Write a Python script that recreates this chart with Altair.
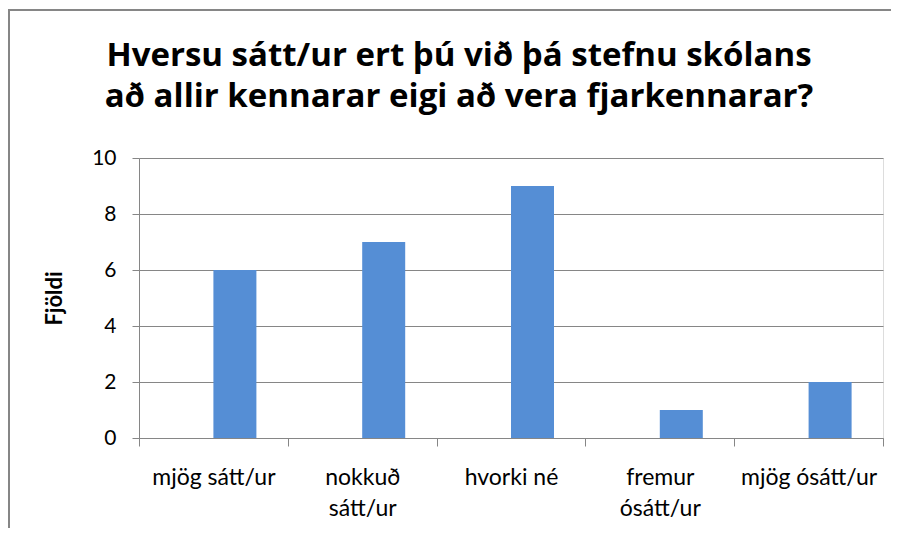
import altair as alt
import pandas as pd

categories = ["mjög sátt/ur", "nokkuð sátt/ur", "hvorki né", "fremur ósátt/ur", "mjög ósátt/ur"]
counts = [6, 7, 9, 1, 2]
y_ticks = [0, 2, 4, 6, 8, 10]
title_lines = ["Hversu sátt/ur ert þú við þá stefnu skólans",
               "að allir kennarar eigi að vera fjarkennarar?"]
y_title = "Fjöldi"

df = pd.DataFrame({"cat": categories, "n": counts})

FONT = "Lato"
TITLE_FONT = "Open Sans"
GREY = "#868686"

label_expr = ("datum.label == 'nokkuð sátt/ur' ? ['nokkuð', 'sátt/ur'] : "
              "datum.label == 'fremur ósátt/ur' ? ['fremur', 'ósátt/ur'] : datum.label")

bars = alt.Chart(df).mark_bar(color="#558ED5", width=43, xOffset=21.5).encode(
    x=alt.X("cat:N", sort=categories, title=None,
            scale=alt.Scale(paddingInner=0, paddingOuter=0),
            axis=alt.Axis(labelAngle=0, labelExpr=label_expr, tickBand="extent",
                          tickSize=8, tickColor=GREY, domainColor=GREY,
                          labelFont=FONT, labelFontSize=23, labelColor="black",
                          labelPadding=20, labelLineHeight=31)),
    y=alt.Y("n:Q", title=y_title, scale=alt.Scale(domain=[0, 10], nice=False),
            axis=alt.Axis(values=y_ticks, grid=True, gridColor=GREY, tickColor=GREY,
                          domainColor=GREY, tickSize=7, labelFont=FONT, labelFontSize=21,
                          labelColor="black", labelPadding=16, titleFont=FONT,
                          titleFontSize=22, titleFontWeight="bold", titleColor="black",
                          titlePadding=25)),
)

border_left = alt.Chart(df).mark_rule(color=GREY, strokeWidth=2).encode(
    x=alt.value(-130), y=alt.value(-149), y2=alt.value(400))
border_top = alt.Chart(df).mark_rule(color=GREY, strokeWidth=2).encode(
    x=alt.value(-131), x2=alt.value(752), y=alt.value(-148))

chart = alt.layer(bars, border_left, border_top).properties(
    width=744, height=280,
    autosize=alt.AutoSizeParams(type="none"),
    padding={"left": 131, "top": 150, "right": 10, "bottom": 90},
    title=alt.TitleParams(title_lines, font=TITLE_FONT, fontSize=33, fontWeight="bold",
                          color="black", lineHeight=41, anchor="middle", dx=-52,
                          offset=0, dy=106, frame="group"),
).configure_view(stroke=None).configure(background="white")

chart.save("out.html", embed_options={"renderer": "svg", "actions": False})
